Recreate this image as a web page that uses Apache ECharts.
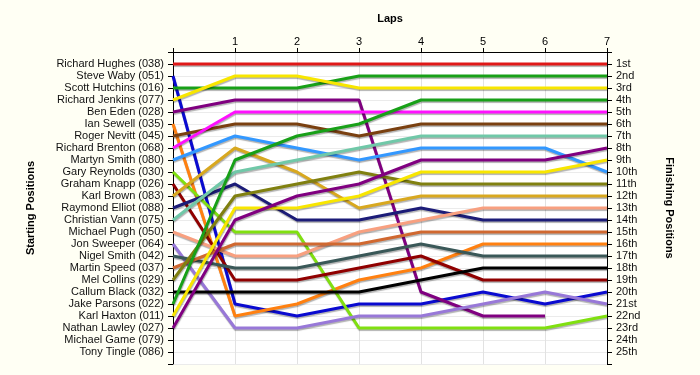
<!DOCTYPE html>
<html>
<head>
<meta charset="utf-8">
<script src="https://cdn.jsdelivr.net/npm/echarts@6/dist/echarts.min.js"></script>
<style>
  html, body { margin: 0; padding: 0; background: #fffff4; }
  #chart { width: 700px; height: 375px; }
</style>
</head>
<body>
<div id="chart"></div>
<script>
// ---- Data ----
const laps = [0, 1, 2, 3, 4, 5, 6, 7];
const startingLabels = [
  'Richard Hughes (038)', 'Steve Waby (051)', 'Scott Hutchins (016)', 'Richard Jenkins (077)',
  'Ben Eden (028)', 'Ian Sewell (035)', 'Roger Nevitt (045)', 'Richard Brenton (068)',
  'Martyn Smith (080)', 'Gary Reynolds (030)', 'Graham Knapp (026)', 'Karl Brown (083)',
  'Raymond Elliot (088)', 'Christian Vann (075)', 'Michael Pugh (050)', 'Jon Sweeper (064)',
  'Nigel Smith (042)', 'Martin Speed (037)', 'Mel Collins (029)', 'Callum Black (032)',
  'Jake Parsons (022)', 'Karl Haxton (011)', 'Nathan Lawley (027)', 'Michael Game (079)',
  'Tony Tingle (086)'
];
const finishingLabels = [
  '1st', '2nd', '3rd', '4th', '5th', '6th', '7th', '8th', '9th', '10th', '11th', '12th', '13th',
  '14th', '15th', '16th', '17th', '18th', '19th', '20th', '21st', '22nd', '23rd', '24th', '25th'
];

// positions per lap (lap 0 = starting position)
const richardHughes  = [1, 1, 1, 1, 1, 1, 1, 1];
const steveWaby      = [2, 21, 22, 21, 21, 20, 21, 20];
const scottHutchins  = [3, 3, 3, 2, 2, 2, 2, 2];
const richardJenkins = [4, 2, 2, 3, 3, 3, 3, 3];
const benEden        = [5, 4, 4, 4, 20, 22, 22];
const ianSewell      = [6, 22, 21, 19, 18, 16, 16, 16];
const rogerNevitt    = [7, 6, 6, 7, 6, 6, 6, 6];
const richardBrenton = [8, 5, 5, 5, 5, 5, 5, 5];
const martynSmith    = [9, 7, 8, 9, 8, 8, 8, 10];
const garyReynolds   = [10, 15, 15, 23, 23, 23, 23, 22];
const grahamKnapp    = [11, 19, 19, 18, 17, 19, 19, 19];
const karlBrown      = [12, 8, 10, 13, 12, 12, 12, 12];
const raymondElliot  = [13, 11, 14, 14, 13, 14, 14, 14];
const christianVann  = [14, 10, 9, 8, 7, 7, 7, 7];
const michaelPugh    = [15, 17, 17, 15, 14, 13, 13, 13];
const jonSweeper     = [16, 23, 23, 22, 22, 21, 20, 21];
const nigelSmith     = [17, 18, 18, 17, 16, 17, 17, 17];
const martinSpeed    = [18, 16, 16, 16, 15, 15, 15, 15];
const melCollins     = [19, 12, 11, 10, 11, 11, 11, 11];
const callumBlack    = [20, 20, 20, 20, 19, 18, 18, 18];
const jakeParsons    = [21, 9, 7, 6, 4, 4, 4, 4];
const karlHaxton     = [22, 13, 13, 12, 10, 10, 10, 9];
const nathanLawley   = [23, 14, 12, 11, 9, 9, 9, 8];

const driverSeries = [
  richardHughes, steveWaby, scottHutchins, richardJenkins, benEden, ianSewell, rogerNevitt,
  richardBrenton, martynSmith, garyReynolds, grahamKnapp, karlBrown, raymondElliot,
  christianVann, michaelPugh, jonSweeper, nigelSmith, martinSpeed, melCollins, callumBlack,
  jakeParsons, karlHaxton, nathanLawley
];

// ---- Styles ----
const driverColors = [
  '#e01818', '#0a0ad0', '#18a018', '#f8e600', '#800080', '#ff8010', '#7a4010',
  '#ff10ff', '#3398ff', '#80e010', '#900000', '#d8a820', '#1c1c78',
  '#70c8a8', '#f8a080', '#9878d8', '#3a5858', '#d06830', '#808010', '#000000',
  '#18a018', '#f8e600', '#800080'
];

const FONT = 'Liberation Sans, Arial, sans-serif';

const series = driverSeries.map((arr, i) => ({
  type: 'line',
  name: startingLabels[i],
  data: arr.map((p, k) => [laps[k], p]),
  symbol: 'none',
  yAxisIndex: 0,
  lineStyle: {
    width: 3,
    color: driverColors[i],
    shadowColor: 'rgba(0,0,0,0.3)',
    shadowBlur: 1,
    shadowOffsetX: 0.5,
    shadowOffsetY: 1.5
  },
  animation: false,
  silent: true
}));

const chart = echarts.init(document.getElementById('chart'), null, { renderer: 'canvas' });
chart.setOption({
  backgroundColor: '#fffff4',
  animation: false,
  grid: {
    left: 173, right: 93, top: 52, bottom: 11,
    show: true, backgroundColor: '#ffffff', borderWidth: 0
  },
  xAxis: {
    type: 'value', position: 'top', min: 0, max: 7, interval: 1,
    name: 'Laps', nameLocation: 'middle', nameGap: 28,
    nameTextStyle: { fontFamily: FONT, fontSize: 11, fontWeight: 'bold', color: '#000' },
    axisLine: { show: true, lineStyle: { color: '#000', width: 1 } },
    axisTick: { show: true, length: 4, lineStyle: { color: '#000' } },
    axisLabel: {
      fontFamily: FONT, fontSize: 11, color: '#000', margin: 5,
      formatter: v => (v === 0 ? '' : String(v))
    },
    splitLine: { show: true, lineStyle: { color: '#e2e2e2', width: 1 } }
  },
  yAxis: [
    {
      type: 'value', position: 'left', inverse: true, min: 0, max: 26, interval: 1,
      name: 'Starting Positions', nameLocation: 'middle', nameGap: 137,
      nameTextStyle: { fontFamily: FONT, fontSize: 11, fontWeight: 'bold', color: '#000' },
      axisLine: { show: true, onZero: false, lineStyle: { color: '#000', width: 1 } },
      axisTick: { show: true, length: 5, lineStyle: { color: '#000' } },
      axisLabel: {
        fontFamily: FONT, fontSize: 11, color: '#111', margin: 9,
        formatter: v => startingLabels[v - 1] || ''
      },
      splitLine: { show: true, lineStyle: { color: '#ebebeb', width: 1 } }
    },
    {
      type: 'value', position: 'right', inverse: true, min: 0, max: 26, interval: 1,
      name: 'Finishing Positions', nameLocation: 'middle', nameGap: 57, nameRotate: -90,
      nameTextStyle: { fontFamily: FONT, fontSize: 11, fontWeight: 'bold', color: '#000' },
      axisLine: { show: true, onZero: false, lineStyle: { color: '#000', width: 1 } },
      axisTick: { show: true, length: 5, lineStyle: { color: '#000' } },
      axisLabel: {
        fontFamily: FONT, fontSize: 11, color: '#111', margin: 9,
        formatter: v => finishingLabels[v - 1] || ''
      },
      splitLine: { show: false }
    }
  ],
  series: series
});
</script>
</body>
</html>
